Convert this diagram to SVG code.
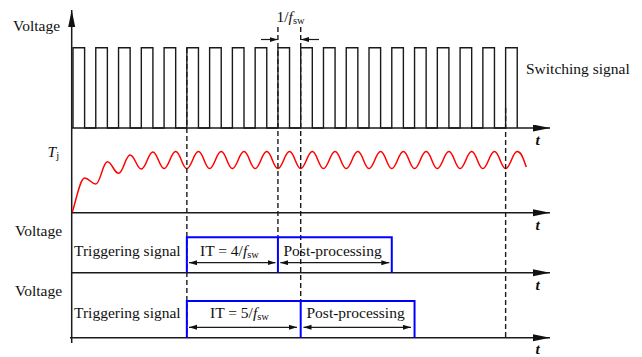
<svg xmlns="http://www.w3.org/2000/svg" width="642" height="357" viewBox="0 0 642 357">
<style>
.ax{stroke:#1a1a1a;stroke-width:1.5;fill:none}
.pl{stroke:#1a1a1a;stroke-width:1.4;fill:none}
.ds{stroke:#1a1a1a;stroke-width:1.4;fill:none;stroke-dasharray:5 3}
.bl{stroke:#0000ff;stroke-width:2;fill:none}
.dm{stroke:#1a1a1a;stroke-width:1.2;fill:none}
.rd{stroke:#ff0000;stroke-width:1.5;fill:none}
text{font-family:"Liberation Serif","Times New Roman",serif;fill:#111;font-size:15.5px}
.it{font-style:italic}
.sub{font-size:10.5px}
</style>
<defs>
<marker id="axh" markerUnits="userSpaceOnUse" markerWidth="18" markerHeight="8" refX="17" refY="3.5" orient="auto-start-reverse">
<path d="M0,0 L17,3.5 L0,7 z" fill="#111"/>
</marker>
<marker id="dh" markerUnits="userSpaceOnUse" markerWidth="9" markerHeight="6" refX="8" refY="2.5" orient="auto-start-reverse">
<path d="M0,0 L8,2.5 L0,5 z" fill="#111"/>
</marker>
</defs>

<g id="axes">
<path class="ax" d="M71.7,343 V10" marker-end="url(#axh)"/>
<path class="ax" d="M71.7,128 H550" marker-end="url(#axh)"/>
<path class="ax" d="M71.7,212.7 H550" marker-end="url(#axh)"/>
<path class="ax" d="M71.7,272.7 H550" marker-end="url(#axh)"/>
<path class="ax" d="M70,337.7 H550" marker-end="url(#axh)"/>
</g>

<g id="switching-signal">
<path class="pl" d="M73,128 V47.7 H84.6 V128 H95.77 V47.7 H107.37 V128 H118.54 V47.7 H130.14 V128 H141.31 V47.7 H152.91 V128 H164.08 V47.7 H175.68 V128 H186.85 V47.7 H198.45 V128 H209.62 V47.7 H221.22 V128 H232.39 V47.7 H243.99 V128 H255.16 V47.7 H266.76 V128 H277.93 V47.7 H289.53 V128 H300.7 V47.7 H312.3 V128 H323.47 V47.7 H335.07 V128 H346.24 V47.7 H357.84 V128 H369.01 V47.7 H380.61 V128 H391.78 V47.7 H403.38 V128 H414.55 V47.7 H426.15 V128 H437.32 V47.7 H448.92 V128 H460.09 V47.7 H471.69 V128 H482.86 V47.7 H494.46 V128 H505.63 V47.7 H517.23 V128"/>
</g>

<g id="tj-curve">
<path class="rd" d="M72.3,212 C75.5,203 80,178 84.6,178 C89.07,178 91.3,184 95.77,184 C100.41,184 102.73,161.7 107.37,161.7 C111.84,161.7 114.07,173.3 118.54,173.3 C123.18,173.3 125.5,155 130.14,155 C134.61,155 136.84,169 141.31,169 C145.95,169 148.27,152 152.91,152 C157.38,152 159.61,168.6 164.08,168.6 S171.04,151.6 175.68,151.6 S182.38,168.6 186.85,168.6 S193.81,151.6 198.45,151.6 S205.15,168.6 209.62,168.6 S216.58,151.6 221.22,151.6 S227.92,168.6 232.39,168.6 S239.35,151.6 243.99,151.6 S250.69,168.6 255.16,168.6 S262.12,151.6 266.76,151.6 S273.46,168.6 277.93,168.6 S284.89,151.6 289.53,151.6 S296.23,168.6 300.7,168.6 S307.66,151.6 312.3,151.6 S319,168.6 323.47,168.6 S330.43,151.6 335.07,151.6 S341.77,168.6 346.24,168.6 S353.2,151.6 357.84,151.6 S364.54,168.6 369.01,168.6 S375.97,151.6 380.61,151.6 S387.31,168.6 391.78,168.6 S398.74,151.6 403.38,151.6 S410.08,168.6 414.55,168.6 S421.51,151.6 426.15,151.6 S432.85,168.6 437.32,168.6 S444.28,151.6 448.92,151.6 S455.62,168.6 460.09,168.6 S467.05,151.6 471.69,151.6 S478.39,168.6 482.86,168.6 S489.82,151.6 494.46,151.6 S501.16,168.6 505.63,168.6 S512.59,151.6 517.23,151.6 S523.5,160 526.3,167"/>
</g>

<g id="connectors">
<path class="ds" d="M186.85,48 V338"/>
<path class="ds" d="M277.93,27 V237"/>
<path class="ds" d="M300.7,27 V301"/>
<path class="ds" d="M505.63,108 V338"/>
<path class="dm" d="M261,39.5 H277.6" marker-end="url(#dh)"/>
<path class="dm" d="M319,39.5 H301" marker-end="url(#dh)"/>
<path class="dm" d="M189,262.7 H275.5" marker-start="url(#dh)" marker-end="url(#dh)"/>
<path class="dm" d="M280.3,262.7 H389.3" marker-start="url(#dh)" marker-end="url(#dh)"/>
<path class="dm" d="M189,327.3 H297" marker-start="url(#dh)" marker-end="url(#dh)"/>
<path class="dm" d="M303.5,327.3 H411" marker-start="url(#dh)" marker-end="url(#dh)"/>
</g>

<g id="trigger-1">
<path class="bl" d="M186.85,272.7 V237.3 H391.78 V272.7"/>
<path class="bl" d="M277.93,237.3 V272.7"/>
</g>
<g id="trigger-2">
<path class="bl" d="M186.85,337.7 V301 H414.55 V337.7"/>
<path class="bl" d="M300.7,301 V337.7"/>
</g>

<g id="labels">
<text x="13" y="30.5" font-size="15">Voltage</text>
<text x="15" y="235.5" font-size="15">Voltage</text>
<text x="15" y="295.5" font-size="15">Voltage</text>
<text x="526" y="73.5">Switching signal</text>
<text x="276.5" y="21.5">1/<tspan class="it">f</tspan><tspan class="sub" dy="2">sw</tspan></text>
<text x="47.5" y="157" class="it">T<tspan class="sub" dy="2" font-style="normal">j</tspan></text>
<text x="74" y="256">Triggering signal</text>
<text x="200" y="256">IT = 4/<tspan class="it">f</tspan><tspan class="sub" dy="2">sw</tspan></text>
<text x="283.5" y="256">Post-processing</text>
<text x="74" y="317.5">Triggering signal</text>
<text x="210" y="317.5">IT = 5/<tspan class="it">f</tspan><tspan class="sub" dy="2">sw</tspan></text>
<text x="306.5" y="317.5">Post-processing</text>
<text x="535.5" y="145" class="it" font-weight="bold">t</text>
<text x="535.5" y="229.5" class="it" font-weight="bold">t</text>
<text x="535.5" y="289.5" class="it" font-weight="bold">t</text>
<text x="535.5" y="354" class="it" font-weight="bold">t</text>
</g>
</svg>
